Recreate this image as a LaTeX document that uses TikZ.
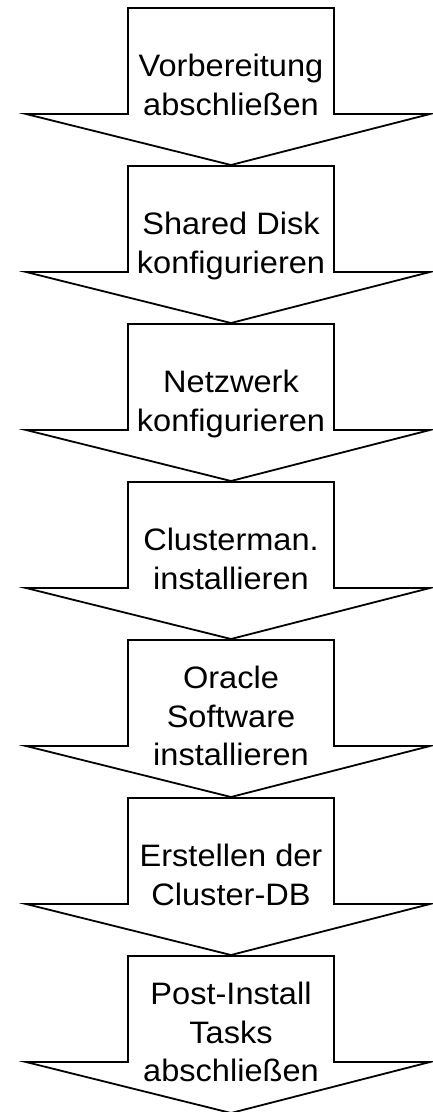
\documentclass[tikz,border=0pt]{standalone}
\usepackage{fontspec}
\setmainfont{Liberation Sans}[FakeStretch=1.05]
\begin{document}
\begin{tikzpicture}[x=1pt,y=-1pt,
  arrowshape/.style={draw=black,line width=1.8pt,fill=white,line join=miter},
  steptext/.style={align=center,inner sep=0pt,font=\fontsize{31}{38.5}\selectfont}]
\useasboundingbox (0,0) rectangle (432,1112);
\tikzset{bigarrow/.pic={
  \path[arrowshape] (128,0) -- (334,0) -- (334,106) -- (430,106) -- (231,157)
     -- (26,106) -- (128,106) -- cycle;}}
\newcommand\topstrut{\rule{0pt}{23pt}}
\newcommand\botstrut{\rule[-7pt]{0pt}{7pt}}
\foreach \k in {0,...,6}{
  \pic at (0,{8+158*\k}) {bigarrow};
}
\node[steptext] (s1) at (231,{8+80+158*0}) {\topstrut Vorbereitung\\abschließen\botstrut};
\node[steptext] (s2) at (231,{8+80+158*1}) {\topstrut Shared Disk\\konfigurieren\botstrut};
\node[steptext] (s3) at (231,{8+80+158*2}) {\topstrut Netzwerk\\konfigurieren\botstrut};
\node[steptext] (s4) at (231,{8+80+158*3}) {\topstrut Clusterman.\\installieren\botstrut};
\node[steptext] (s5) at (231,{8+79+158*4}) {\topstrut Oracle\\Software\\installieren\botstrut};
\node[steptext] (s6) at (231,{8+80+158*5}) {\topstrut Erstellen der\\Cluster-DB\botstrut};
\node[steptext] (s7) at (231,{8+79+158*6}) {\topstrut Post-Install\\Tasks\\abschließen\botstrut};
\end{tikzpicture}
\end{document}
